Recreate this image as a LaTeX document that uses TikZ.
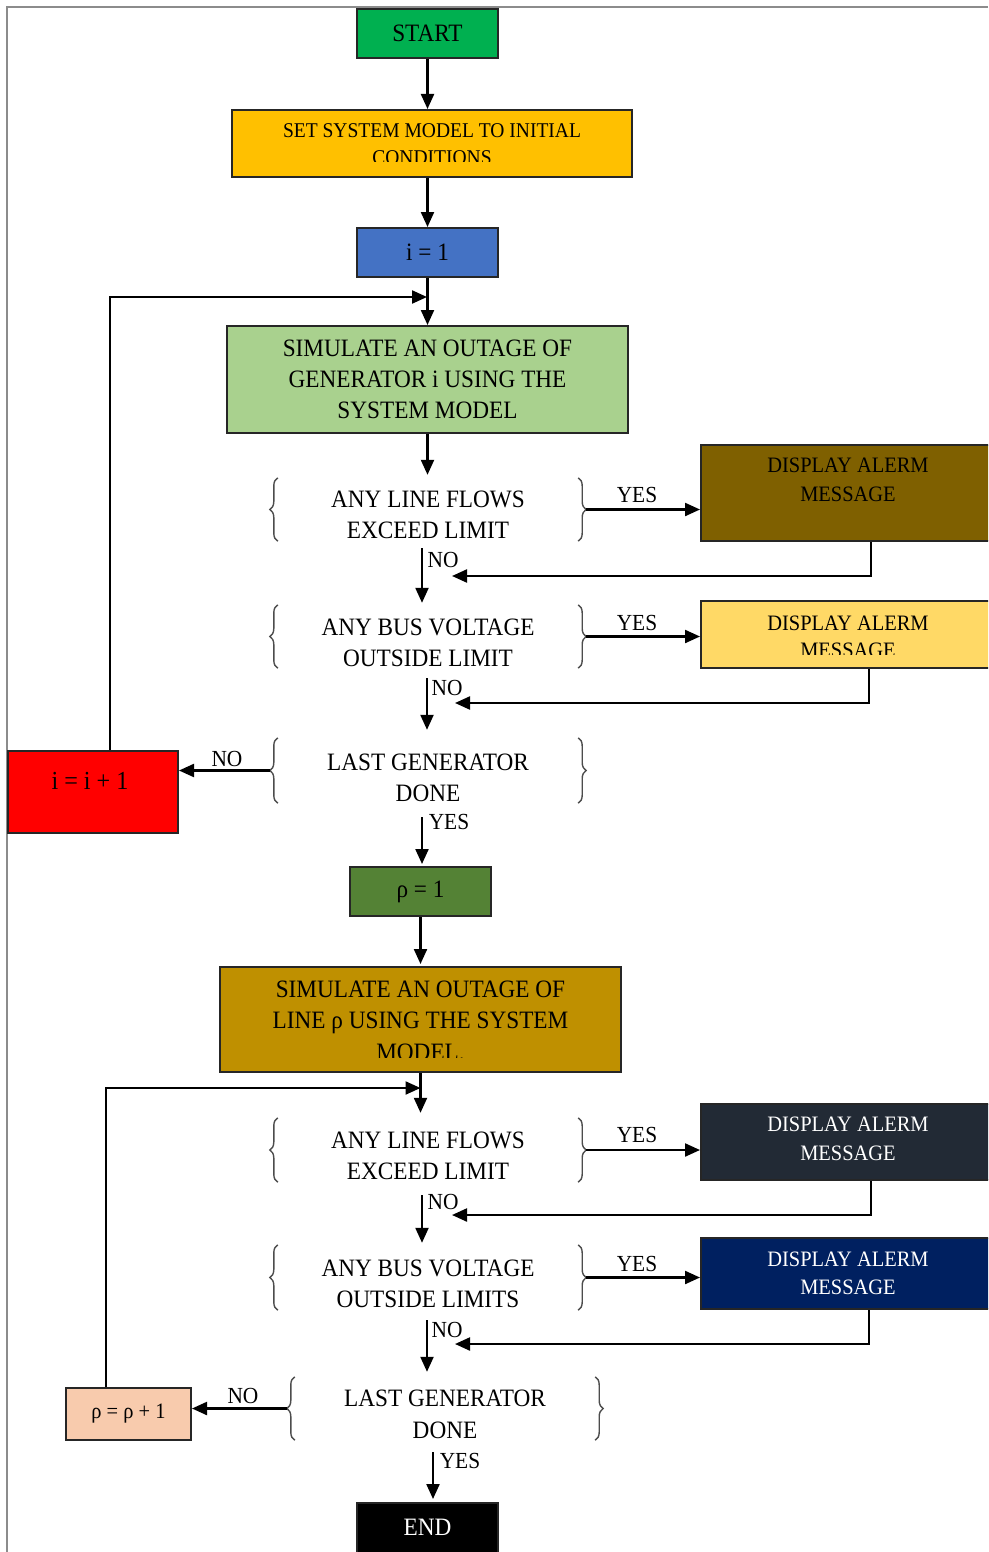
\documentclass[tikz,border=0pt]{standalone}
\usepackage{fontspec}
\setmainfont{Liberation Serif}[FakeStretch=0.93]
\usetikzlibrary{arrows.meta,decorations.pathreplacing}
\newcommand\fs[2]{\fontsize{#1}{#2}\selectfont}
\definecolor{cstart}{HTML}{00B050}
\definecolor{cinit}{HTML}{FFC000}
\definecolor{cione}{HTML}{4472C4}
\definecolor{csimone}{HTML}{A9D18E}
\definecolor{calone}{HTML}{7F6000}
\definecolor{caltwo}{HTML}{FFD966}
\definecolor{cred}{HTML}{FF0000}
\definecolor{crho}{HTML}{548235}
\definecolor{csimtwo}{HTML}{BF9000}
\definecolor{calthree}{HTML}{222A35}
\definecolor{calfour}{HTML}{002060}
\definecolor{crhotwo}{HTML}{F8CBAD}
\begin{document}
\begin{tikzpicture}[x=1pt,y=-1pt,
  blk/.style={draw=black!85, line width=2pt, inner sep=0pt, align=center},
  txt/.style={align=center, inner sep=0pt},
  arr/.style={line width=2.2pt, -{Triangle[length=15pt,width=13pt]}},
  dec/.style={inner sep=0pt, minimum width=300pt, minimum height=63pt},
  brc/.style={decorate, decoration={brace, amplitude=8pt}, line width=1.4pt, draw=black!70},
  lbl/.style={font=\fs{23}{27}, inner sep=0pt},
  frame/.style={draw=black!45, line width=1.2pt}]
\clip (0,0) rectangle (988,1552);
\fill[white] (0,0) rectangle (988,1552);
\draw[frame] (988,7) -- (7,7) -- (7,1552);

% ---------- top part ----------
\node[blk, fill=cstart, minimum width=141pt, minimum height=49pt, font=\fs{25}{30}] (start) at (427.5,33.5) {START};
\node[blk, fill=cinit, minimum width=400pt, minimum height=67pt] (init) at (432,143.5) {};
\begin{scope}
\clip (232,110) rectangle (632,161.5);
\node[txt, font=\fs{21}{27}] (initt) at (432,144.5) {SET SYSTEM MODEL TO INITIAL\\CONDITIONS};
\end{scope}
\node[blk, fill=cione, minimum width=141pt, minimum height=49pt, font=\fs{25}{30}] (i1) at (427.5,252.5) {i = 1};
\node[blk, fill=csimone, minimum width=401pt, minimum height=107pt, font=\fs{25}{31}] (sim1) at (427.5,379.5) {SIMULATE AN OUTAGE OF\\GENERATOR i USING THE\\SYSTEM MODEL};

% decision 1
\node[dec] (d1) at (428,509.5) {};
\node[txt, font=\fs{25}{31}] (d1t) at (428,515) {ANY LINE FLOWS\\EXCEED LIMIT};
\draw[brc] (d1.south west) -- (d1.north west);
\draw[brc] (d1.north east) -- (d1.south east);
\coordinate (d1r) at ([xshift=8pt]d1.east);
\node[blk, fill=calone, minimum width=294pt, minimum height=96pt] (al1) at (848,493) {};
\node[txt, font=\fs{22}{29}] (al1t) at (848,479.5) {DISPLAY ALERM\\MESSAGE};

% decision 2
\node[dec] (d2) at (428,636.5) {};
\node[txt, font=\fs{25}{31}] (d2t) at (428,642.5) {ANY BUS VOLTAGE\\OUTSIDE LIMIT};
\draw[brc] (d2.south west) -- (d2.north west);
\draw[brc] (d2.north east) -- (d2.south east);
\coordinate (d2r) at ([xshift=8pt]d2.east);
\node[blk, fill=caltwo, minimum width=294pt, minimum height=67pt] (al2) at (848,634.5) {};
\begin{scope}
\clip (701,601) rectangle (995,654);
\node[txt, font=\fs{22}{27}] (al2t) at (848,636.5) {DISPLAY ALERM\\MESSAGE};
\end{scope}

% decision 3
\node[dec, minimum height=65pt] (d3) at (428,770.5) {};
\node[txt, font=\fs{25}{31}] (d3t) at (428,777.5) {LAST GENERATOR\\DONE};
\draw[brc] (d3.south west) -- (d3.north west);
\draw[brc] (d3.north east) -- (d3.south east);
\coordinate (d3l) at ([xshift=-8pt]d3.west);
\node[blk, fill=cred, minimum width=170pt, minimum height=82pt] (red) at (93,792) {};
\node[txt, font=\fs{26}{30}] (redt) at (90,781) {i = i + 1};

% ---------- lower part ----------
\node[blk, fill=crho, minimum width=141pt, minimum height=49pt, font=\fs{25}{30}] (rho1) at (420.5,891.5) {ρ = 1};
\node[blk, fill=csimtwo, minimum width=401pt, minimum height=105pt] (sim2) at (420.5,1019.5) {};
\begin{scope}
\clip (220,967) rectangle (621,1057);
\node[txt, font=\fs{25}{31.5}] (sim2t) at (420.5,1020.5) {SIMULATE AN OUTAGE OF\\LINE ρ USING THE SYSTEM\\MODEL.};
\end{scope}

% decision 4
\node[dec, minimum height=64pt] (d4) at (428,1150) {};
\node[txt, font=\fs{25}{31}] (d4t) at (428,1156) {ANY LINE FLOWS\\EXCEED LIMIT};
\draw[brc] (d4.south west) -- (d4.north west);
\draw[brc] (d4.north east) -- (d4.south east);
\coordinate (d4r) at ([xshift=8pt]d4.east);
\node[blk, fill=calthree, minimum width=294pt, minimum height=76pt] (al3) at (848,1142) {};
\node[txt, font=\fs{22}{29}, text=white] (al3t) at (848,1138.5) {DISPLAY ALERM\\MESSAGE};

% decision 5
\node[dec, minimum height=65pt] (d5) at (428,1277.5) {};
\node[txt, font=\fs{25}{31}] (d5t) at (428,1283.5) {ANY BUS VOLTAGE\\OUTSIDE LIMITS};
\draw[brc] (d5.south west) -- (d5.north west);
\draw[brc] (d5.north east) -- (d5.south east);
\coordinate (d5r) at ([xshift=8pt]d5.east);
\node[blk, fill=calfour, minimum width=294pt, minimum height=71pt] (al4) at (848,1273.5) {};
\node[txt, font=\fs{22}{28}, text=white] (al4t) at (848,1273) {DISPLAY ALERM\\MESSAGE};

% decision 6
\node[dec] (d6) at (445,1408.5) {};
\node[txt, font=\fs{25}{32}] (d6t) at (445,1414) {LAST GENERATOR\\DONE};
\draw[brc] (d6.south west) -- (d6.north west);
\draw[brc] (d6.north east) -- (d6.south east);
\coordinate (d6l) at ([xshift=-8pt]d6.west);
\node[blk, fill=crhotwo, minimum width=125pt, minimum height=52pt, font=\fs{22}{26}] (rho2) at (128.5,1414) {ρ = ρ + 1};

\node[blk, fill=black, text=white, minimum width=141pt, minimum height=56pt] (end) at (427.5,1531) {};
\node[txt, font=\fs{25}{30}, text=white] (endt) at (427.5,1527) {END};

% ---------- connectors ----------
\draw[arr] (start.south) -- (start.south |- init.north);
\draw[arr] (i1.north |- init.south) -- (i1.north);
\draw[arr] (i1.south) -- (sim1.north);
\coordinate (loopA) at (427,297);
\draw[arr] ([xshift=17pt]red.north) |- (loopA);
\draw[arr, shorten >=3pt] (sim1.south) -- (sim1.south |- d1.north);

\draw[arr] (d1r) -- (d1r -| al1.west);
\node[lbl] (yes1) at (637,495) {YES};
\coordinate (ret1) at (452,576);
\draw[arr] ([xshift=23pt]al1.south) |- (ret1);
\coordinate (n1a) at ([xshift=-6pt,yshift=-7pt]d1.south);
\draw[arr, shorten >=2pt] (n1a) -- (n1a |- d2.north);
\node[lbl] (no1) at (443,560) {NO};

\draw[arr] (d2r) -- (d2r -| al2.west);
\node[lbl] (yes2) at (637,623) {YES};
\coordinate (ret2) at (455,703);
\draw[arr] ([xshift=21pt]al2.south) |- (ret2);
\coordinate (n2a) at ([xshift=-1pt,yshift=-10pt]d2.south);
\draw[arr, shorten >=8pt] (n2a) -- (n2a |- d3.north);
\node[lbl] (no2) at (447,688) {NO};

\draw[arr] (d3l) -- (d3l -| red.east);
\node[lbl] (no3) at (227,759) {NO};
\coordinate (y3a) at ([xshift=-6pt,yshift=-14pt]d3.south);
\draw[arr, shorten >=2pt] (y3a) -- (y3a |- rho1.north);
\node[lbl] (yes3) at (449,822) {YES};

\draw[arr, shorten >=2pt] (rho1.south) -- (sim2.north);
\draw[arr, shorten >=5pt] (sim2.south) -- (sim2.south |- d4.north);
\coordinate (loopB) at (420.5,1088);
\draw[arr] ([xshift=-22.5pt]rho2.north) |- (loopB);

\draw[arr] (d4r) -- (d4r -| al3.west);
\node[lbl] (yes4) at (637,1135) {YES};
\coordinate (ret3) at (452,1215);
\draw[arr] ([xshift=23pt]al3.south) |- (ret3);
\coordinate (n4a) at ([xshift=-6pt,yshift=-13pt]d4.south);
\draw[arr, shorten >=2pt] (n4a) -- (n4a |- d5.north);
\node[lbl] (no4) at (443,1202) {NO};

\draw[arr] (d5r) -- (d5r -| al4.west);
\node[lbl] (yes5) at (637,1264) {YES};
\coordinate (ret4) at (455,1344);
\draw[arr] ([xshift=21pt]al4.south) |- (ret4);
\coordinate (n5a) at ([xshift=-1pt,yshift=-10pt]d5.south);
\draw[arr, shorten >=5pt] (n5a) -- (n5a |- d6.north);
\node[lbl] (no5) at (447,1330) {NO};

\draw[arr] (d6l) -- (d6l -| rho2.east);
\node[lbl] (no6) at (243,1396) {NO};
\coordinate (y6a) at ([xshift=-12pt,yshift=-12pt]d6.south);
\draw[arr, shorten >=3pt] (y6a) -- (y6a |- end.north);
\node[lbl] (yes6) at (460,1461) {YES};
\end{tikzpicture}
\end{document}
